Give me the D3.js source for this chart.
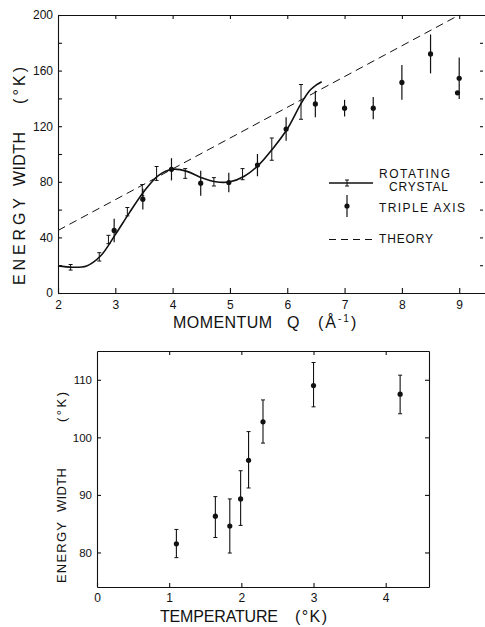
<!DOCTYPE html>
<html>
<head>
<meta charset="utf-8">
<script src="https://cdn.jsdelivr.net/npm/d3@7"></script>
<style>
  body { margin: 0; background: #fff; }
  svg { display: block; }
  text { font-family: "Liberation Sans", Arial, sans-serif; fill: #111; }
</style>
</head>
<body>
<svg width="485" height="627"></svg>
<script>
// upper panel: energy width against momentum Q
var fitQ = [2.0, 2.25, 2.5, 2.75, 3.0, 3.25, 3.5, 3.75, 4.0, 4.25, 4.5, 4.75, 5.0, 5.25, 5.5, 5.75, 6.0, 6.25, 6.4, 6.5, 6.6];
var fitE = [19.5, 18.5, 19.5, 27, 42, 58, 73, 84.5, 89, 87.5, 83, 80, 80, 84, 92, 104, 118, 137, 146, 149.5, 152];

var rotQ   = [2.22, 2.72, 2.88, 3.21, 3.47, 3.72, 4.22, 4.72, 5.22, 5.73, 6.24];
var rotE   = [18.5, 26, 38.5, 58.5, 74, 86, 86, 80, 85.5, 103.5, 137.5];
var rotErr = [2, 3, 3, 3, 4, 5, 3.5, 3, 4, 8, 12.5];

var tripQ   = [2.98, 3.48, 3.98, 4.49, 4.98, 5.48, 5.98, 6.49, 7.0, 7.5, 8.0, 8.5, 9.0, 8.97];
var tripE   = [45, 67.5, 89, 79, 79.5, 92, 118, 136, 133, 133, 151.5, 172, 154.5, 144];
var tripErr = [8.5, 7.5, 8, 9, 7, 8, 8.5, 9.5, 6, 8, 12.5, 14, 15, 0];

var theoryQ = [2, 9];
var theoryE = [45, 200];

var qTicks = [2, 3, 4, 5, 6, 7, 8, 9];
var eTicks = [0, 20, 40, 60, 80, 100, 120, 140, 160, 180, 200];

// lower panel: energy width against temperature
var tempT  = [1.1, 1.64, 1.84, 1.99, 2.1, 2.3, 3.0, 4.2];
var tempW  = [81.5, 86.3, 84.6, 89.3, 96.0, 102.7, 109.0, 107.5];
var tempLo = [79.1, 82.6, 79.9, 84.7, 91.2, 99.0, 105.3, 104.1];
var tempHi = [84.0, 89.7, 89.3, 94.2, 101.0, 106.5, 113.0, 110.8];

var tTicks = [0, 1, 2, 3, 4];
var wTicks = [80, 90, 100, 110];

var ink = '#111';
var svg = d3.select('svg');

function tidy(g, size) {
  g.attr('font-family', null).attr('font-size', null);
  g.selectAll('path, line').attr('stroke', ink).attr('stroke-width', 1.1);
  g.selectAll('text').attr('font-size', size).attr('fill', ink);
}

// word of a rotated axis title, stretched between two y positions
function vword(txt, x, y0, y1, size) {
  svg.append('text')
    .attr('transform', 'translate(' + x + ',' + y0 + ') rotate(-90)')
    .attr('font-size', size)
    .attr('textLength', y0 - y1)
    .attr('lengthAdjust', 'spacing')
    .text(txt);
}
function hword(txt, x0, x1, y, size) {
  return svg.append('text')
    .attr('x', x0).attr('y', y)
    .attr('font-size', size)
    .attr('textLength', x1 - x0)
    .attr('lengthAdjust', 'spacing')
    .text(txt);
}

/* ---------- upper panel ---------- */
var xQ = d3.scaleLinear().domain([2, 9.45]).range([58, 485]);
var yE = d3.scaleLinear().domain([0, 200]).range([293, 15]);

svg.append('g').attr('transform', 'translate(0,293)')
  .call(d3.axisBottom(xQ).tickValues(qTicks).tickSize(-5).tickSizeOuter(0).tickPadding(7).tickFormat(d3.format('d')))
  .call(tidy, 12);

svg.append('g').attr('transform', 'translate(58,0)')
  .call(d3.axisLeft(yE).tickValues(eTicks).tickSize(-4).tickSizeOuter(0).tickPadding(5)
    .tickFormat(function (d) { return d % 40 === 0 ? d : ''; }))
  .call(tidy, 12);

svg.append('g').attr('transform', 'translate(0,15)')
  .call(d3.axisTop(xQ).tickValues(qTicks.slice(1)).tickSize(-4).tickSizeOuter(0).tickFormat(''))
  .call(tidy, 12);

var rightAx = svg.append('g').attr('transform', 'translate(483,0)')
  .call(d3.axisRight(yE).tickValues(eTicks.slice(1, -1)).tickSize(-3).tickFormat(''))
  .call(tidy, 12);
rightAx.select('.domain').remove();

// theory
svg.append('path')
  .datum(d3.zip(theoryQ, theoryE))
  .attr('fill', 'none').attr('stroke', ink).attr('stroke-width', 1)
  .attr('stroke-dasharray', '8,5')
  .attr('d', d3.line().x(function (d) { return xQ(d[0]); }).y(function (d) { return yE(d[1]); }));

// rotating crystal fit curve
svg.append('path')
  .datum(d3.zip(fitQ, fitE))
  .attr('fill', 'none').attr('stroke', ink).attr('stroke-width', 1.6)
  .attr('d', d3.line().curve(d3.curveCatmullRom)
    .x(function (d) { return xQ(d[0]); }).y(function (d) { return yE(d[1]); }));

// rotating crystal error bars with caps
var rot = svg.append('g').attr('stroke', ink).attr('stroke-width', 1);
rotQ.forEach(function (q, i) {
  var x = xQ(q), lo = yE(rotE[i] - rotErr[i]), hi = yE(rotE[i] + rotErr[i]);
  rot.append('line').attr('x1', x).attr('x2', x).attr('y1', lo).attr('y2', hi);
  rot.append('line').attr('x1', x - 2).attr('x2', x + 2).attr('y1', lo).attr('y2', lo);
  rot.append('line').attr('x1', x - 2).attr('x2', x + 2).attr('y1', hi).attr('y2', hi);
});

// triple axis points
var trip = svg.append('g');
tripQ.forEach(function (q, i) {
  if (tripErr[i] > 0) {
    trip.append('line').attr('stroke', ink).attr('stroke-width', 1.2)
      .attr('x1', xQ(q)).attr('x2', xQ(q))
      .attr('y1', yE(tripE[i] - tripErr[i])).attr('y2', yE(tripE[i] + tripErr[i]));
  }
  trip.append('circle').attr('cx', xQ(q)).attr('cy', yE(tripE[i])).attr('r', 2.6).attr('fill', ink);
});

// legend
var lg = svg.append('g').attr('stroke', ink);
lg.append('line').attr('x1', 329).attr('x2', 373).attr('y1', 183).attr('y2', 183).attr('stroke-width', 1.4);
lg.append('line').attr('x1', 347).attr('x2', 347).attr('y1', 180).attr('y2', 186).attr('stroke-width', 1);
lg.append('line').attr('x1', 345).attr('x2', 349).attr('y1', 180).attr('y2', 180).attr('stroke-width', 1);
lg.append('line').attr('x1', 345).attr('x2', 349).attr('y1', 186).attr('y2', 186).attr('stroke-width', 1);
lg.append('line').attr('x1', 347).attr('x2', 347).attr('y1', 195).attr('y2', 217).attr('stroke-width', 1.2);
lg.append('circle').attr('cx', 347).attr('cy', 206).attr('r', 2.6).attr('fill', ink).attr('stroke', 'none');
lg.append('line').attr('x1', 329).attr('x2', 373).attr('y1', 239.5).attr('y2', 239.5)
  .attr('stroke-width', 1).attr('stroke-dasharray', '7,5');

hword('ROTATING', 379, 450, 178, 12);
hword('CRYSTAL', 389, 448, 191, 12);
hword('TRIPLE AXIS', 379, 465, 212, 12);
hword('THEORY', 379, 433, 243, 12);

// axis titles
vword('ENERGY', 25, 285, 198, 16);
vword('WIDTH', 25, 186, 132, 16);
vword('(°K)', 25, 104, 67, 16);

hword('MOMENTUM', 173, 272, 328, 16);
hword('Q', 287, 300, 328, 16);
var ql = svg.append('text').attr('x', 318).attr('y', 328).attr('font-size', 16).attr('letter-spacing', 2);
ql.append('tspan').text('(Å');
ql.append('tspan').attr('dy', -6).attr('font-size', 10).text('-1');
ql.append('tspan').attr('dy', 6).text(')');

/* ---------- lower panel ---------- */
var xT = d3.scaleLinear().domain([0, 4.6]).range([97, 429]);
var yW = d3.scaleLinear().domain([74, 115]).range([587, 351]);

svg.append('g').attr('transform', 'translate(0,587)')
  .call(d3.axisBottom(xT).tickValues(tTicks).tickSize(-4).tickSizeOuter(0).tickPadding(6).tickFormat(d3.format('d')))
  .call(tidy, 12);
svg.append('g').attr('transform', 'translate(97,0)')
  .call(d3.axisLeft(yW).tickValues(wTicks).tickSize(-4).tickSizeOuter(0).tickPadding(5).tickFormat(d3.format('d')))
  .call(tidy, 11.5);
svg.append('g').attr('transform', 'translate(0,351)')
  .call(d3.axisTop(xT).tickValues(tTicks.slice(1)).tickSize(-4).tickSizeOuter(0).tickFormat(''))
  .call(tidy, 12);
svg.append('g').attr('transform', 'translate(429,0)')
  .call(d3.axisRight(yW).tickValues(wTicks).tickSize(-4).tickSizeOuter(0).tickFormat(''))
  .call(tidy, 12);

var tp = svg.append('g');
tempT.forEach(function (t, i) {
  var x = xT(t), lo = yW(tempLo[i]), hi = yW(tempHi[i]);
  tp.append('line').attr('stroke', ink).attr('stroke-width', 1.1).attr('x1', x).attr('x2', x).attr('y1', lo).attr('y2', hi);
  tp.append('line').attr('stroke', ink).attr('stroke-width', 1).attr('x1', x - 2).attr('x2', x + 2).attr('y1', lo).attr('y2', lo);
  tp.append('line').attr('stroke', ink).attr('stroke-width', 1).attr('x1', x - 2).attr('x2', x + 2).attr('y1', hi).attr('y2', hi);
  tp.append('circle').attr('cx', x).attr('cy', yW(tempW[i])).attr('r', 2.6).attr('fill', ink);
});

vword('ENERGY', 66, 583, 522, 13);
vword('WIDTH', 66, 512, 468, 13);
vword('(°K)', 66, 422, 392, 13);

hword('TEMPERATURE', 160, 278, 622, 16);
hword('(°K)', 295, 327, 622, 16);
</script>
</body>
</html>
